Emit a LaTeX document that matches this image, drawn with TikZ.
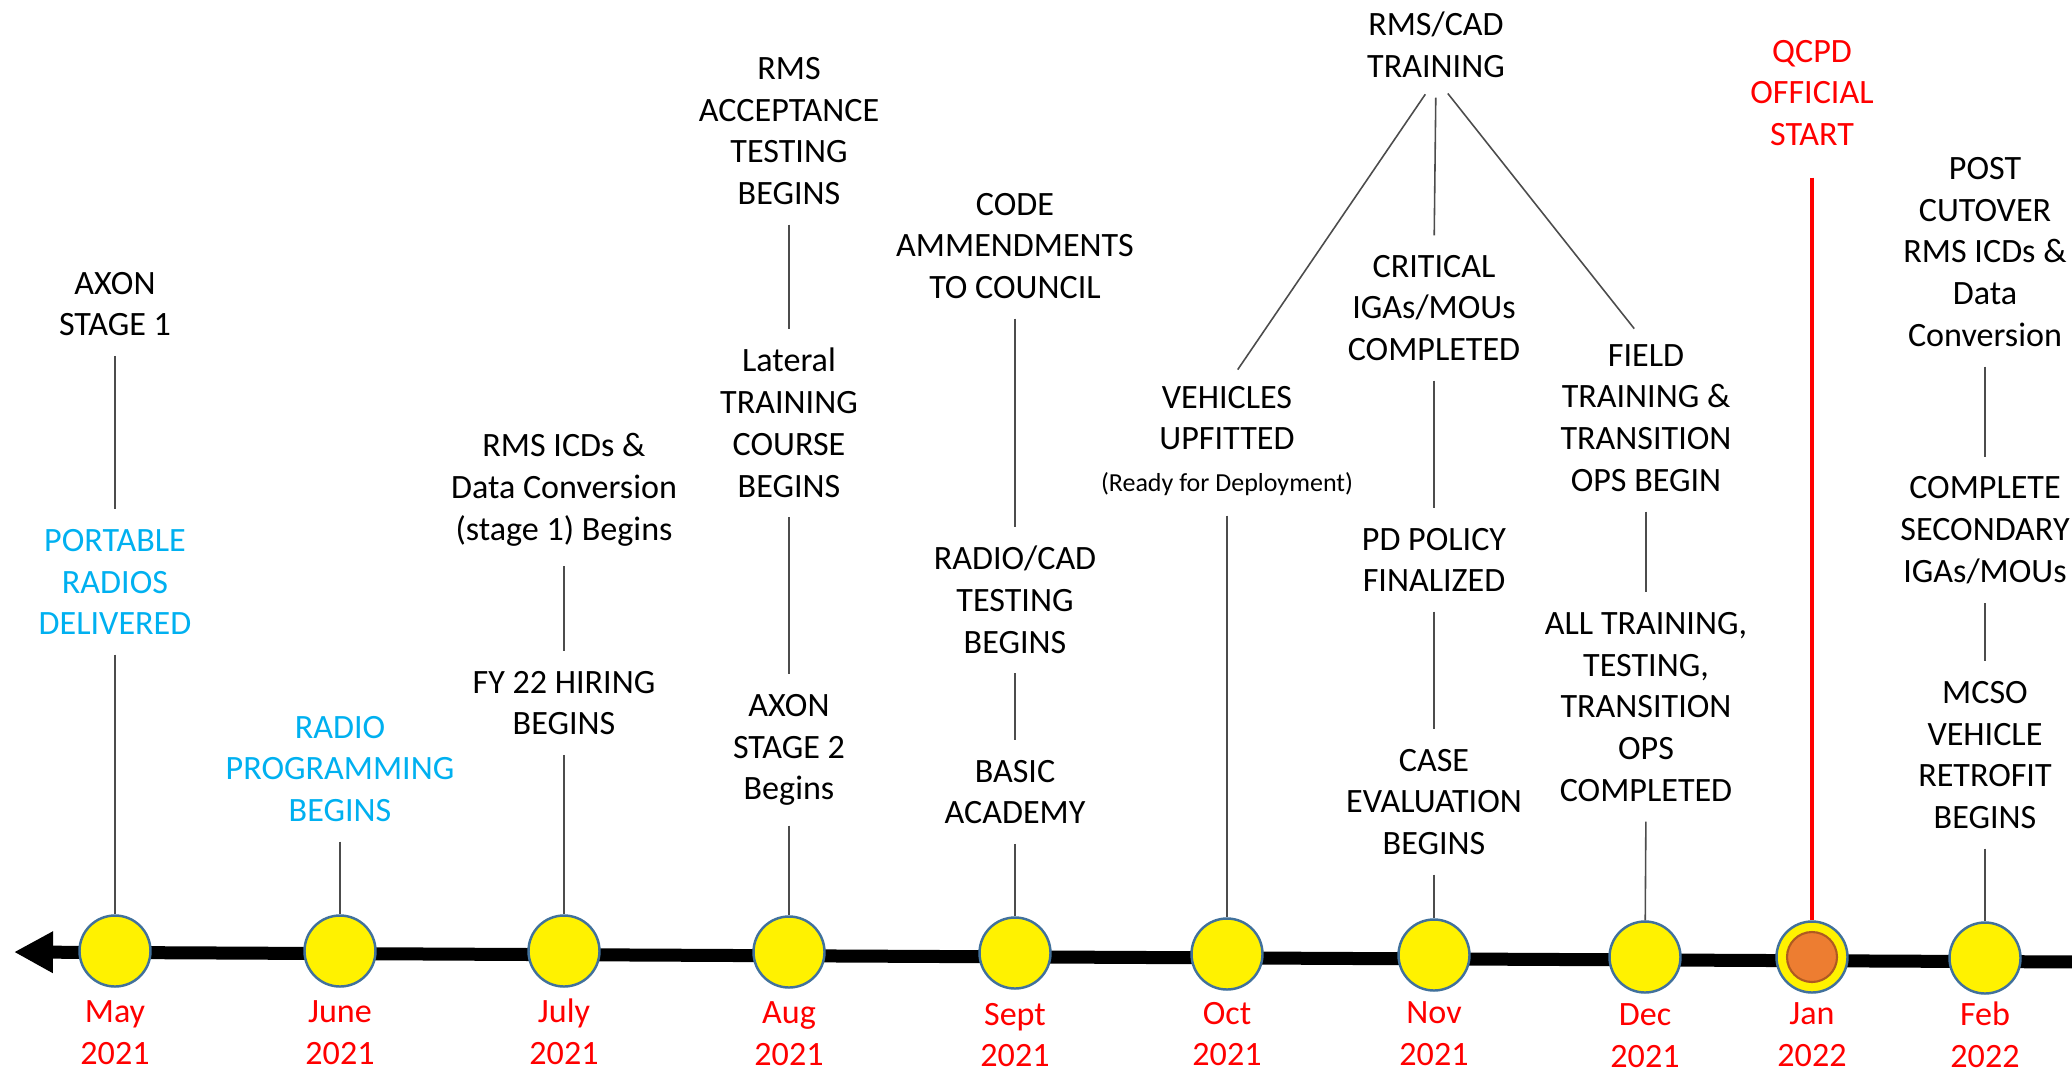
\documentclass[tikz,border=0pt]{standalone}
\usepackage{fontspec}
\setmainfont{Carlito}
\usepackage{xcolor}
\usepackage{tikz}
\usetikzlibrary{arrows.meta}
\definecolor{skyblue}{HTML}{00B0F0}
\definecolor{dotrim}{HTML}{41719C}
\definecolor{orangefill}{HTML}{ED7D31}
\definecolor{orangerim}{HTML}{AE5A21}

\begin{document}
\begin{tikzpicture}[
    evt/.style={align=center, inner sep=0pt, font=\fontsize{9.7}{11.9}\selectfont},
    evtblue/.style={evt, text=skyblue},
    monthlbl/.style={evt, text=red},
    monthdot/.style={circle, draw=dotrim, line width=0.7pt, fill=yellow, minimum size=0.71cm, inner sep=0pt},
    joinline/.style={black!70, line width=0.45pt, shorten <=0.19cm, shorten >=0.19cm},
    stemline/.style={black!70, line width=0.45pt, shorten <=0.19cm}]
    \useasboundingbox (0,0) rectangle (20.72,-10.73);

    \coordinate (tlend) at (20.80,-9.62);
    \coordinate (tltip) at (0.14,-9.52);
    \draw[line width=0.13cm, -{Triangle[length=0.39cm, width=0.39cm]}] (tlend) -- (tltip);

    \draw (1.15,-9.51) node (maydot) [monthdot] {};
    \draw (3.40,-9.51) node (jundot) [monthdot] {};
    \draw (5.64,-9.51) node (juldot) [monthdot] {};
    \draw (7.89,-9.52) node (augdot) [monthdot] {};
    \draw (10.15,-9.53) node (sepdot) [monthdot] {};
    \draw (12.27,-9.54) node (octdot) [monthdot] {};
    \draw (14.34,-9.55) node (novdot) [monthdot] {};
    \draw (16.45,-9.57) node (decdot) [monthdot] {};
    \draw (18.12,-9.57) node (jandot) [monthdot] {};
    \draw (18.12,-9.57) node (janin) [circle, fill=orangefill, draw=orangerim, line width=0.6pt, minimum size=0.5cm] {};
    \draw (19.85,-9.58) node (febdot) [monthdot] {};

    \draw (1.15,-10.33) node (maylbl) [monthlbl] {May\\2021};
    \draw (3.40,-10.33) node (junlbl) [monthlbl] {June\\2021};
    \draw (5.64,-10.32) node (jullbl) [monthlbl] {July\\2021};
    \draw (7.89,-10.34) node (auglbl) [monthlbl] {Aug\\2021};
    \draw (10.15,-10.35) node (seplbl) [monthlbl] {Sept\\2021};
    \draw (12.27,-10.34) node (octlbl) [monthlbl] {Oct\\2021};
    \draw (14.34,-10.34) node (novlbl) [monthlbl] {Nov\\2021};
    \draw (16.45,-10.36) node (declbl) [monthlbl] {Dec\\2021};
    \draw (18.12,-10.35) node (janlbl) [monthlbl] {Jan\\2022};
    \draw (19.85,-10.35) node (feblbl) [monthlbl] {Feb\\2022};

    \draw (1.15,-3.04) node (axona) [evt] {AXON\\STAGE 1};
    \draw (1.15,-5.82) node (radiosa) [evtblue] {PORTABLE\\RADIOS\\DELIVERED};
    \draw (3.40,-7.69) node (progb) [evtblue] {RADIO\\PROGRAMMING\\BEGINS};
    \draw (5.64,-4.90) node (icdsa) [evt] {RMS ICDs \&\\Data Conversion\\(stage 1) Begins};
    \draw (5.64,-7.03) node (hiring) [evt] {FY 22 HIRING\\BEGINS};
    \draw (7.89,-1.31) node (accept) [evt] {RMS\\ACCEPTANCE\\TESTING\\BEGINS};
    \draw (7.89,-4.23) node (lateral) [evt] {Lateral\\TRAINING\\COURSE\\BEGINS};
    \draw (7.89,-7.50) node (axonb) [evt] {AXON\\STAGE 2\\Begins};
    \draw (10.15,-2.46) node (code) [evt] {CODE\\AMMENDMENTS\\TO COUNCIL};
    \draw (10.15,-6.00) node (radiocad) [evt] {RADIO/CAD\\TESTING\\BEGINS};
    \draw (10.15,-7.92) node (academy) [evt] {BASIC\\ACADEMY};
    \draw (12.27,-4.41) node (vehicles) [evt] {VEHICLES\\UPFITTED\\{\fontsize{7.4}{9}\selectfont(Ready for Deployment)}};
    \draw (14.36,-0.45) node (rmscad) [evt] {RMS/CAD\\TRAINING};
    \draw (14.34,-3.08) node (critical) [evt] {CRITICAL\\IGAs/MOUs\\COMPLETED};
    \draw (14.34,-5.60) node (policy) [evt] {PD POLICY\\FINALIZED};
    \draw (14.34,-8.02) node (caseev) [evt] {CASE\\EVALUATION\\BEGINS};
    \draw (16.46,-4.18) node (field) [evt] {FIELD\\TRAINING \&\\TRANSITION\\OPS BEGIN};
    \draw (16.46,-7.07) node (alldone) [evt] {ALL TRAINING,\\TESTING,\\TRANSITION\\OPS\\COMPLETED};
    \draw (18.12,-0.93) node (qcpd) [evt, text=red] {QCPD\\OFFICIAL\\START};
    \draw (19.85,-2.52) node (postcut) [evt] {POST\\CUTOVER\\RMS ICDs \&\\Data\\Conversion};
    \draw (19.85,-5.30) node (secondary) [evt] {COMPLETE\\SECONDARY\\IGAs/MOUs};
    \draw (19.85,-7.55) node (mcso) [evt] {MCSO\\VEHICLE\\RETROFIT\\BEGINS};

    \draw[joinline] (axona.south) -- (radiosa.north);
    \draw[stemline] (radiosa.south) -- (maydot);
    \draw[stemline] (progb.south) -- (jundot);
    \draw[joinline] (icdsa.south) -- (hiring.north);
    \draw[stemline] (hiring.south) -- (juldot);
    \draw[joinline] (accept.south) -- (lateral.north);
    \draw[joinline] (lateral.south) -- (axonb.north);
    \draw[stemline] (axonb.south) -- (augdot);
    \draw[joinline] (code.south) -- (radiocad.north);
    \draw[joinline] (radiocad.south) -- (academy.north);
    \draw[stemline] (academy.south) -- (sepdot);
    \draw[joinline] (rmscad.south) -- (vehicles.north);
    \draw[joinline] (rmscad.south) -- (critical.north);
    \draw[joinline] (rmscad.south) -- (field.north);
    \draw[stemline] (vehicles.south) -- (octdot);
    \draw[joinline] (critical.south) -- (policy.north);
    \draw[joinline] (policy.south) -- (caseev.north);
    \draw[stemline] (caseev.south) -- (novdot);
    \draw[joinline] (field.south) -- (alldone.north);
    \draw[stemline] (alldone.south) -- (decdot);
    \draw[red, line width=1pt, shorten <=0.31cm] (qcpd.south) -- (jandot);
    \draw[joinline] (postcut.south) -- (secondary.north);
    \draw[joinline] (secondary.south) -- (mcso.north);
    \draw[stemline] (mcso.south) -- (febdot);
\end{tikzpicture}
\end{document}
